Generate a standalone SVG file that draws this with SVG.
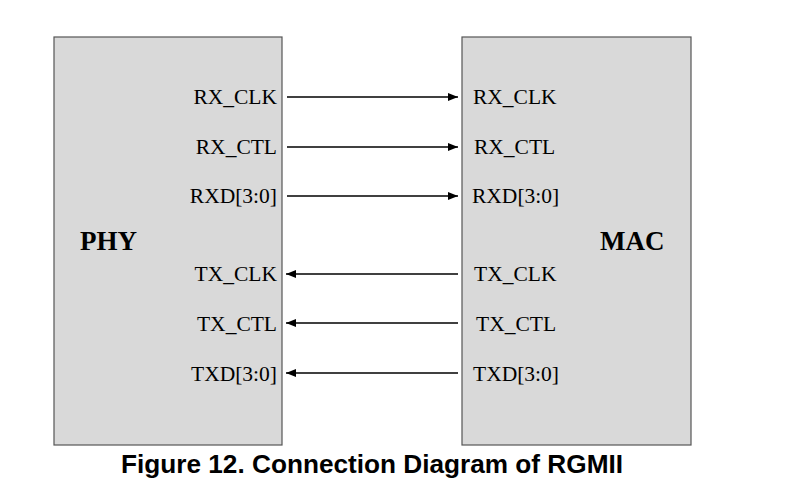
<svg xmlns="http://www.w3.org/2000/svg" width="787" height="494" viewBox="0 0 787 494">
<style>
.box{fill:#d9d9d9;stroke:#555;stroke-width:1.2}
.sig{font-family:"Liberation Serif",serif;font-size:21.5px;fill:#000}
.title{font-family:"Liberation Serif",serif;font-size:27px;font-weight:bold;fill:#000}
.cap{font-family:"Liberation Sans",Arial,sans-serif;font-size:25px;font-weight:bold;fill:#000}
.wire{stroke:#000;stroke-width:1.5;fill:none}
</style>
<defs>
<marker id="ah" viewBox="0 0 10 10" refX="10" refY="5" markerWidth="10" markerHeight="10" markerUnits="userSpaceOnUse" orient="auto">
<path d="M0,1 L10,5 L0,9 Z" fill="#000"/>
</marker>
</defs>
<rect x="0" y="0" width="787" height="494" fill="#fff"/>
<g id="phy">
<rect class="box" x="54" y="37" width="228" height="408"/>
<text class="title" x="80" y="250">PHY</text>
<g class="sig" text-anchor="end">
<text x="277" y="104">RX_CLK</text>
<text x="277" y="154">RX_CTL</text>
<text x="277" y="203">RXD[3:0]</text>
<text x="277" y="281">TX_CLK</text>
<text x="277" y="331">TX_CTL</text>
<text x="277" y="381">TXD[3:0]</text>
</g>
</g>
<g id="mac">
<rect class="box" x="462" y="37" width="229" height="408"/>
<text class="title" x="600" y="250">MAC</text>
<g class="sig">
<text x="473" y="104">RX_CLK</text>
<text x="474" y="154">RX_CTL</text>
<text x="472" y="203">RXD[3:0]</text>
<text x="474" y="281">TX_CLK</text>
<text x="476" y="331">TX_CTL</text>
<text x="473" y="381">TXD[3:0]</text>
</g>
</g>
<g id="connectors">
<line class="wire" x1="287" y1="97" x2="458" y2="97" marker-end="url(#ah)"/>
<line class="wire" x1="287" y1="147" x2="458" y2="147" marker-end="url(#ah)"/>
<line class="wire" x1="287" y1="196" x2="458" y2="196" marker-end="url(#ah)"/>
<line class="wire" x1="458" y1="274" x2="286" y2="274" marker-end="url(#ah)"/>
<line class="wire" x1="458" y1="323" x2="286" y2="323" marker-end="url(#ah)"/>
<line class="wire" x1="458" y1="373" x2="286" y2="373" marker-end="url(#ah)"/>
</g>
<text class="cap" x="372" y="473" text-anchor="middle" textLength="502" lengthAdjust="spacingAndGlyphs">Figure 12. Connection Diagram of RGMII</text>
</svg>
